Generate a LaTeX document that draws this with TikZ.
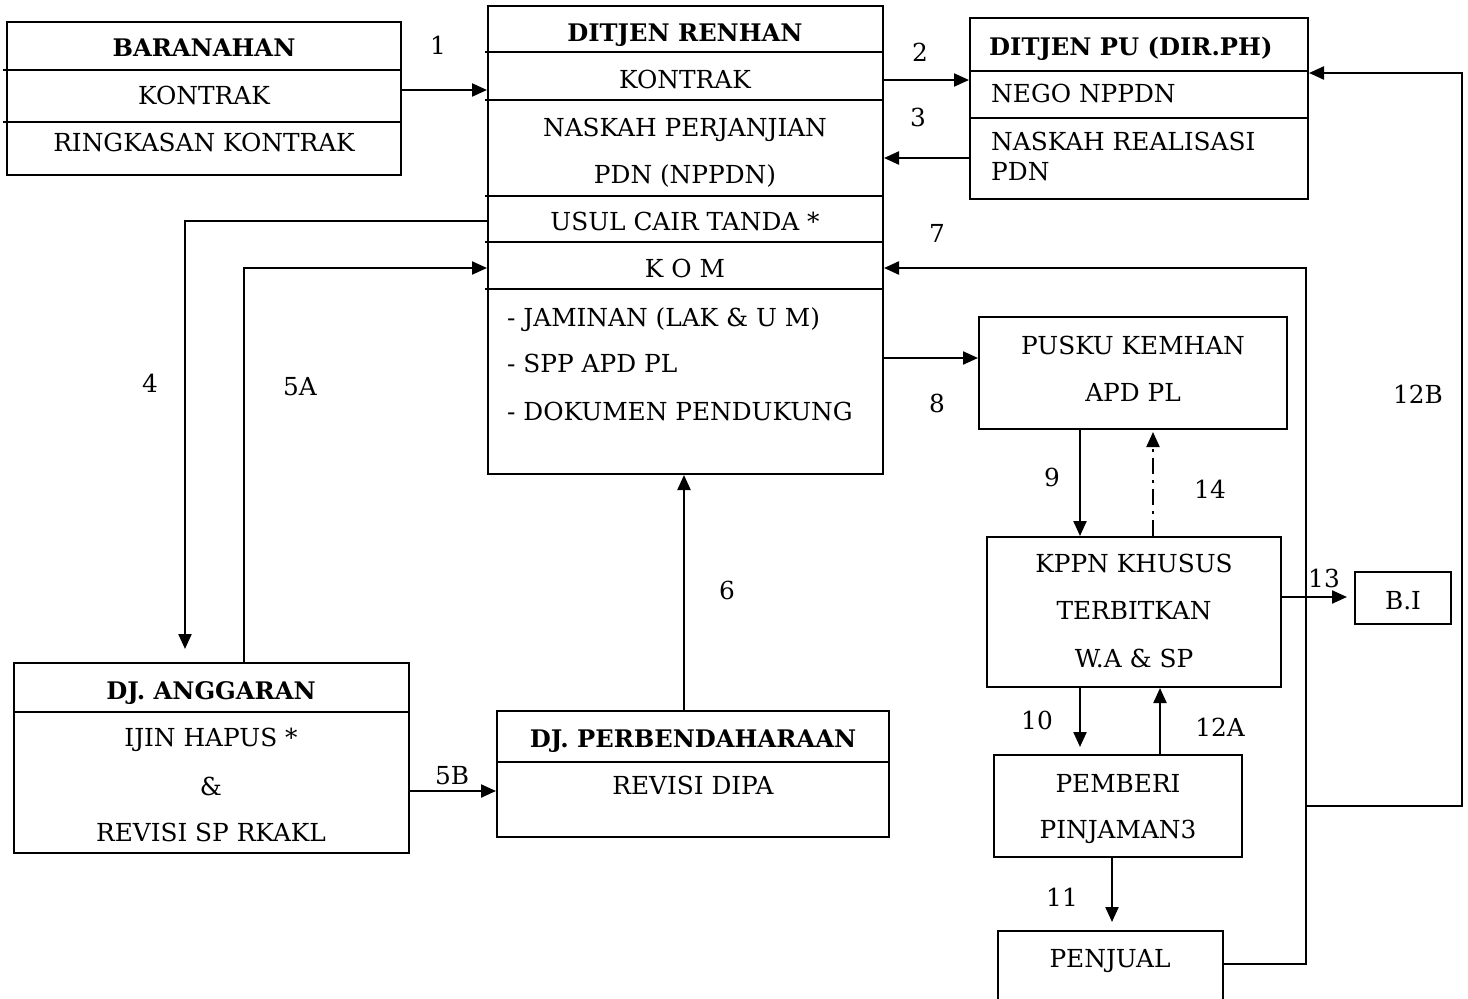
\documentclass[tikz,border=0pt]{standalone}
\usepackage{fontspec}
\setmainfont{DejaVu Serif}
\usetikzlibrary{arrows.meta,calc}
\begin{document}
\begin{tikzpicture}[x=1pt,y=-1pt,
 box/.style={draw, line width=2pt, inner sep=0pt},
 txt/.style={inner sep=0pt, text height=19pt, text depth=0pt, font=\fontsize{24.8}{29}\selectfont},
 btxt/.style={txt, font=\fontsize{24.2}{28}\selectfont\bfseries},
 arr/.style={line width=2.2pt, -{Triangle[length=15pt,width=13pt]}},
 dv/.style={line width=2pt},
 dashdot/.style={dash pattern=on 16pt off 6pt on 3pt off 6pt}]
\useasboundingbox (0,0) rectangle (1468,999);
\clip (0,0) rectangle (1468,999);
% boxes
\node[box, minimum width=394pt, minimum height=153pt] (bar) at (204,98.5) {};
\node[box, minimum width=395pt, minimum height=468pt] (ren) at (685.5,240) {};
\node[box, minimum width=338pt, minimum height=181pt] (pu) at (1139,108.5) {};
\node[box, minimum width=308pt, minimum height=112pt] (pus) at (1133,373) {};
\node[box, minimum width=294pt, minimum height=150pt] (kppn) at (1134,612) {};
\node[box, minimum width=96pt, minimum height=52pt] (bi) at (1403,598) {};
\node[box, minimum width=248pt, minimum height=102pt] (pem) at (1118,806) {};
\node[box, minimum width=225pt, minimum height=79pt] (pen) at (1110.5,970.5) {};
\node[box, minimum width=395pt, minimum height=190pt] (dja) at (211.5,758) {};
\node[box, minimum width=392pt, minimum height=126pt] (djp) at (693,774) {};
% dividers
\draw[dv] ([xshift=-3pt]bar.west |- 0,70) -- (bar.east |- 0,70);
\draw[dv] ([xshift=-3pt]bar.west |- 0,122) -- (bar.east |- 0,122);
\foreach \yy in {52,100,196,242,289} \draw[dv] ([xshift=-2pt]ren.west |- 0,\yy) -- (ren.east |- 0,\yy);
\draw[dv] (pu.west |- 0,71) -- (pu.east |- 0,71);
\draw[dv] (pu.west |- 0,118) -- (pu.east |- 0,118);
\draw[dv] (dja.west |- 0,712) -- (dja.east |- 0,712);
\draw[dv] (djp.west |- 0,762) -- (djp.east |- 0,762);
% texts
\node[btxt] (barT) at (204,47) {BARANAHAN};
\node[txt] (barK) at (204,95) {KONTRAK};
\node[txt] (barR) at (204,142) {RINGKASAN KONTRAK};
\node[btxt] (renT) at (685,32) {DITJEN RENHAN};
\node[txt] (renK) at (685,79) {KONTRAK};
\node[txt] (renN) at (685,127) {NASKAH PERJANJIAN};
\node[txt] (renP) at (685,174) {PDN (NPPDN)};
\node[txt] (renU) at (685,221) {USUL CAIR TANDA *};
\node[txt] (renM) at (685,268) {K O M};
\node[txt, anchor=west] (renJ) at (507,317) {- JAMINAN (LAK \& U M)};
\node[txt, anchor=west] (renS) at (507,363) {- SPP APD PL};
\node[txt, anchor=west] (renD) at (507,411) {- DOKUMEN PENDUKUNG};
\node[btxt, anchor=west] (puT) at (989,46) {DITJEN PU (DIR.PH)};
\node[txt, anchor=west] (puN) at (991,93) {NEGO NPPDN};
\node[txt, anchor=west] (puR) at (991,141) {NASKAH REALISASI};
\node[txt, anchor=west] (puP) at (991,171) {PDN};
\node[txt] (pusA) at (1133,345) {PUSKU KEMHAN};
\node[txt] (pusB) at (1133,392) {APD PL};
\node[txt] (kA) at (1134,563) {KPPN KHUSUS};
\node[txt] (kB) at (1134,610) {TERBITKAN};
\node[txt] (kC) at (1134,658) {W.A \& SP};
\node[txt] (biT) at (1403,600) {B.I};
\node[txt] (pemA) at (1118,783) {PEMBERI};
\node[txt] (pemB) at (1118,829) {PINJAMAN3};
\node[txt] (penA) at (1110,958) {PENJUAL};
\node[btxt] (djaT) at (211,690) {DJ. ANGGARAN};
\node[txt] (djaA) at (211,737) {IJIN HAPUS *};
\node[txt] (djaB) at (211,786) {\&};
\node[txt] (djaC) at (211,832) {REVISI SP RKAKL};
\node[btxt] (djpT) at (693,738) {DJ. PERBENDAHARAAN};
\node[txt] (djpA) at (693,785) {REVISI DIPA};
% connectors
\draw[arr] (bar.east |- 0,90) -- (ren.west |- 0,90);
\draw[arr] (ren.east |- 0,80) -- (pu.west |- 0,80);
\draw[arr] (pu.west |- 0,158) -- (ren.east |- 0,158);
\coordinate (c7) at (1306,268);
\coordinate (c7b) at (1306,964);
\draw[arr] (pen.east |- c7b) -- (c7b) -- (c7) -- (ren.east |- c7);
\coordinate (c12a) at (1306,806);
\coordinate (c12b) at (1462,806);
\coordinate (c12c) at (1462,73);
\draw[arr] (c12a) -- (c12b) -- (c12c) -- (pu.east |- c12c);
\draw[arr] (ren.east |- 0,358) -- (pus.west |- 0,358);
\draw[arr] (pus.south -| 1080,0) -- (kppn.north -| 1080,0);
\draw[arr, dashdot, shorten >=2pt] (kppn.north -| 1153,0) -- (pus.south -| 1153,0);
\draw[arr, shorten >=7pt] (kppn.east |- 0,597) -- (bi.west |- 0,597);
\draw[arr, shorten >=7pt] (kppn.south -| 1080,0) -- (pem.north -| 1080,0);
\draw[arr] (pem.north -| 1160,0) -- (kppn.south -| 1160,0);
\draw[arr, shorten >=8pt] (pem.south -| 1112,0) -- (pen.north -| 1112,0);
\coordinate (c4) at (185,221);
\draw[arr, shorten >=13pt] (ren.west |- c4) -- (c4) -- (dja.north -| c4);
\coordinate (c5) at (244,268);
\draw[arr] (dja.north -| c5) -- (c5) -- (ren.west |- c5);
\draw[arr] (dja.east |- 0,791) -- (djp.west |- 0,791);
\draw[arr] (djp.north -| 684,0) -- (ren.south -| 684,0);
% labels
\node[txt] (l1) at (438,45) {1};
\node[txt] (l2) at (920,52) {2};
\node[txt] (l3) at (918,117) {3};
\node[txt] (l7) at (937,233) {7};
\node[txt] (l8) at (937,403) {8};
\node[txt] (l9) at (1052,477) {9};
\node[txt] (l14) at (1210,489) {14};
\node[txt] (l13) at (1324,578) {13};
\node[txt] (l12B) at (1418,394) {12B};
\node[txt] (l10) at (1037,720) {10};
\node[txt] (l12A) at (1220,727) {12A};
\node[txt] (l11) at (1062,897) {11};
\node[txt] (l4) at (150,383) {4};
\node[txt] (l5A) at (300,386) {5A};
\node[txt] (l5B) at (452,775) {5B};
\node[txt] (l6) at (727,590) {6};
\end{tikzpicture}
\end{document}
